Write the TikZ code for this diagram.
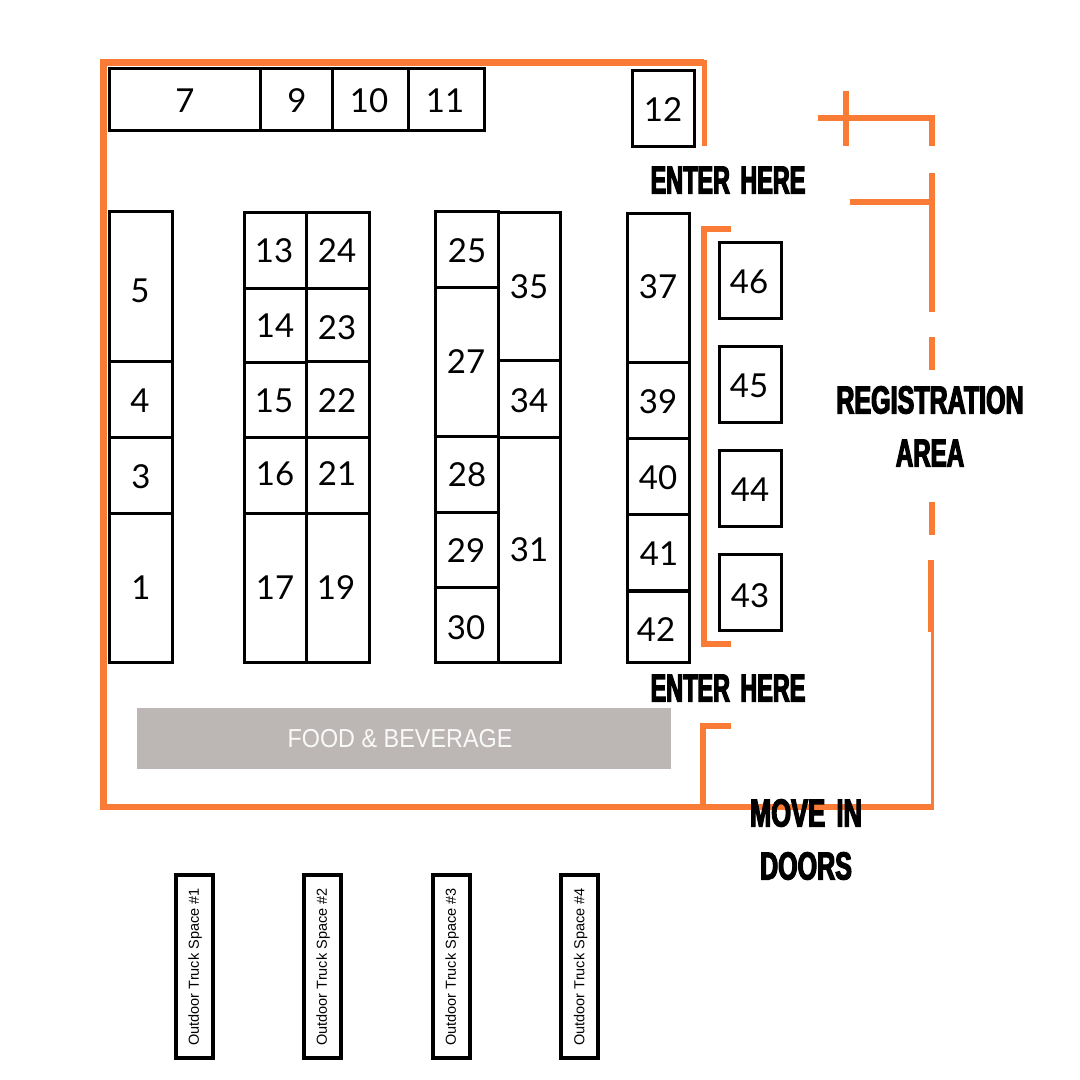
\documentclass[tikz,border=0pt]{standalone}
\usepackage{fontspec}
\setmainfont{Lato}
\newfontfamily\labelfont{Liberation Sans}
\newfontfamily\headfont[FakeStretch=0.60,FakeBold=3,WordSpace=1.6]{Liberation Sans Bold}
\definecolor{wall}{HTML}{F97B36}
\definecolor{foodgrey}{HTML}{BCB6B5}
\tikzset{
  wallline/.style={draw=wall,line width=#1,line cap=butt,line join=miter},
  wallline/.default=5pt,
  boothbox/.style={draw=black,line width=3pt,inner sep=0pt,outer sep=0pt},
  truckbox/.style={draw=black,line width=4pt,fill=white,inner sep=0pt,outer sep=0pt},
  trucktext/.style={rotate=90,font=\labelfont\fontsize{14.5}{14.5}\selectfont},
  headtext/.style={font=\headfont\fontsize{39}{39}\selectfont,inner sep=0pt},
  foodbox/.style={fill=foodgrey,inner sep=0pt,outer sep=0pt},
  foodtext/.style={inner sep=0pt,text=white!92!foodgrey,font=\labelfont\fontsize{26}{26}\selectfont,xscale=0.9}
}
\usetikzlibrary{calc}
\newcommand{\booth}[6]{%
  \path let \n1={#3-#2},\n2={#5-#4} in node[boothbox,minimum width=\n1 pt,minimum height=\n2 pt,anchor=north west] (b#1) at (#2,#4) {};
  \node (t#1) at ($(#6)+(0,1)$) [font=\fontsize{33}{33}\selectfont,inner sep=0pt] {#1};
}
\begin{document}
\begin{tikzpicture}[x=1pt,y=-1pt]
\useasboundingbox (0,0) rectangle (1080,1080);
\fill[white] (0,0) rectangle (1080,1080);
% walls
\draw[wallline=7pt] (103.5,808) -- (103.5,62.5) -- (704,62.5);
\draw[wallline=5pt] (704,60) -- (704,146);
\draw[wallline=6.5pt] (100,807) -- (703,807);
\draw[wallline=5.5pt] (703,807) -- (934,807);
\draw[wallline=5.5pt] (703,808) -- (703,726) -- (731,726);
\draw[wallline=5.5pt] (731,229) -- (704,229) -- (704,644) -- (731,644);
\draw[wallline=6pt] (818,118) -- (932,118) -- (932,146);
\draw[wallline=6pt] (846,91) -- (846,146);
\draw[wallline=6pt] (932,173) -- (932,312);
\draw[wallline=6pt] (850,202) -- (932,202);
\draw[wallline=6pt] (932,337) -- (932,370);
\draw[wallline=6pt] (932,502) -- (932,535);
\draw[wallline=6pt] (931,560) -- (931,632);
\draw[wallline=3.5pt] (932.5,632) -- (932.5,808);
% booths
\booth{7}{109}{260}{68}{130}{185,100}
\booth{9}{260}{332}{68}{130}{297,100}
\booth{10}{332}{408}{68}{130}{369,100}
\booth{11}{408}{484}{68}{130}{445,100}
\booth{12}{632}{694}{70}{146}{663,109}
\booth{5}{109}{172}{211}{361}{140,290}
\booth{4}{109}{172}{361}{437}{140,400}
\booth{3}{109}{172}{437}{513}{141,476}
\booth{1}{109}{172}{513}{662}{141,587}
\booth{13}{244}{306}{212}{288}{274,250}
\booth{14}{244}{306}{288}{362}{275,325}
\booth{15}{244}{306}{362}{437}{274,400}
\booth{16}{244}{306}{437}{513}{275,473}
\booth{17}{244}{306}{513}{662}{275,587}
\booth{24}{306}{369}{212}{288}{337,250}
\booth{23}{306}{369}{288}{361}{337,327}
\booth{22}{306}{369}{361}{437}{337,400}
\booth{21}{306}{369}{437}{513}{337,473}
\booth{19}{306}{369}{513}{662}{336,587}
\booth{25}{435}{498}{211}{287}{467,250}
\booth{27}{435}{498}{287}{436}{466,361}
\booth{28}{435}{498}{436}{512}{467,474}
\booth{29}{435}{498}{512}{587}{466,550}
\booth{30}{435}{498}{587}{662}{466,627}
\booth{35}{498}{560}{212}{360}{529,286}
\booth{34}{498}{560}{360}{437}{529,400}
\booth{31}{498}{560}{437}{662}{529,549}
\booth{37}{627}{689}{213}{362}{658,286}
\booth{39}{627}{689}{362}{438}{658,401}
\booth{40}{627}{689}{438}{514}{658,477}
\booth{41}{627}{689}{514}{590}{659,553}
\booth{42}{627}{689}{591}{662}{656,629}
\booth{46}{719}{781}{242}{318}{749,281}
\booth{45}{719}{781}{346}{422}{749,385}
\booth{44}{719}{781}{450}{526}{750,489}
\booth{43}{719}{781}{554}{630}{750,595}
% food
\node[foodbox,minimum width=534pt,minimum height=61pt] (food) at (404,738.5) {};
\node[foodtext] (foodlabel) at (400,738.5) {FOOD \& BEVERAGE};
% headings
\node[headtext] (enterA) at (728,180) {ENTER HERE};
\node[headtext] (enterB) at (728,688) {ENTER HERE};
\node[headtext,xscale=1.07] (regA) at (930,400) {REGISTRATION};
\node[headtext,xscale=1.03] (regB) at (930,453) {AREA};
\node[headtext,xscale=1.09] (moveA) at (806,813) {MOVE IN};
\node[headtext,xscale=1.07] (moveB) at (806,866) {DOORS};
% trucks
\foreach \nm/\cx in {1/194,2/322,3/451,4/579.5}{
  \node[truckbox,minimum width=37pt,minimum height=183pt] (truck\nm) at (\cx,966.5) {};
  \node[trucktext] (trucklabel\nm) at (\cx+1,967) {Outdoor Truck Space \#\nm};
}
\end{tikzpicture}
\end{document}
